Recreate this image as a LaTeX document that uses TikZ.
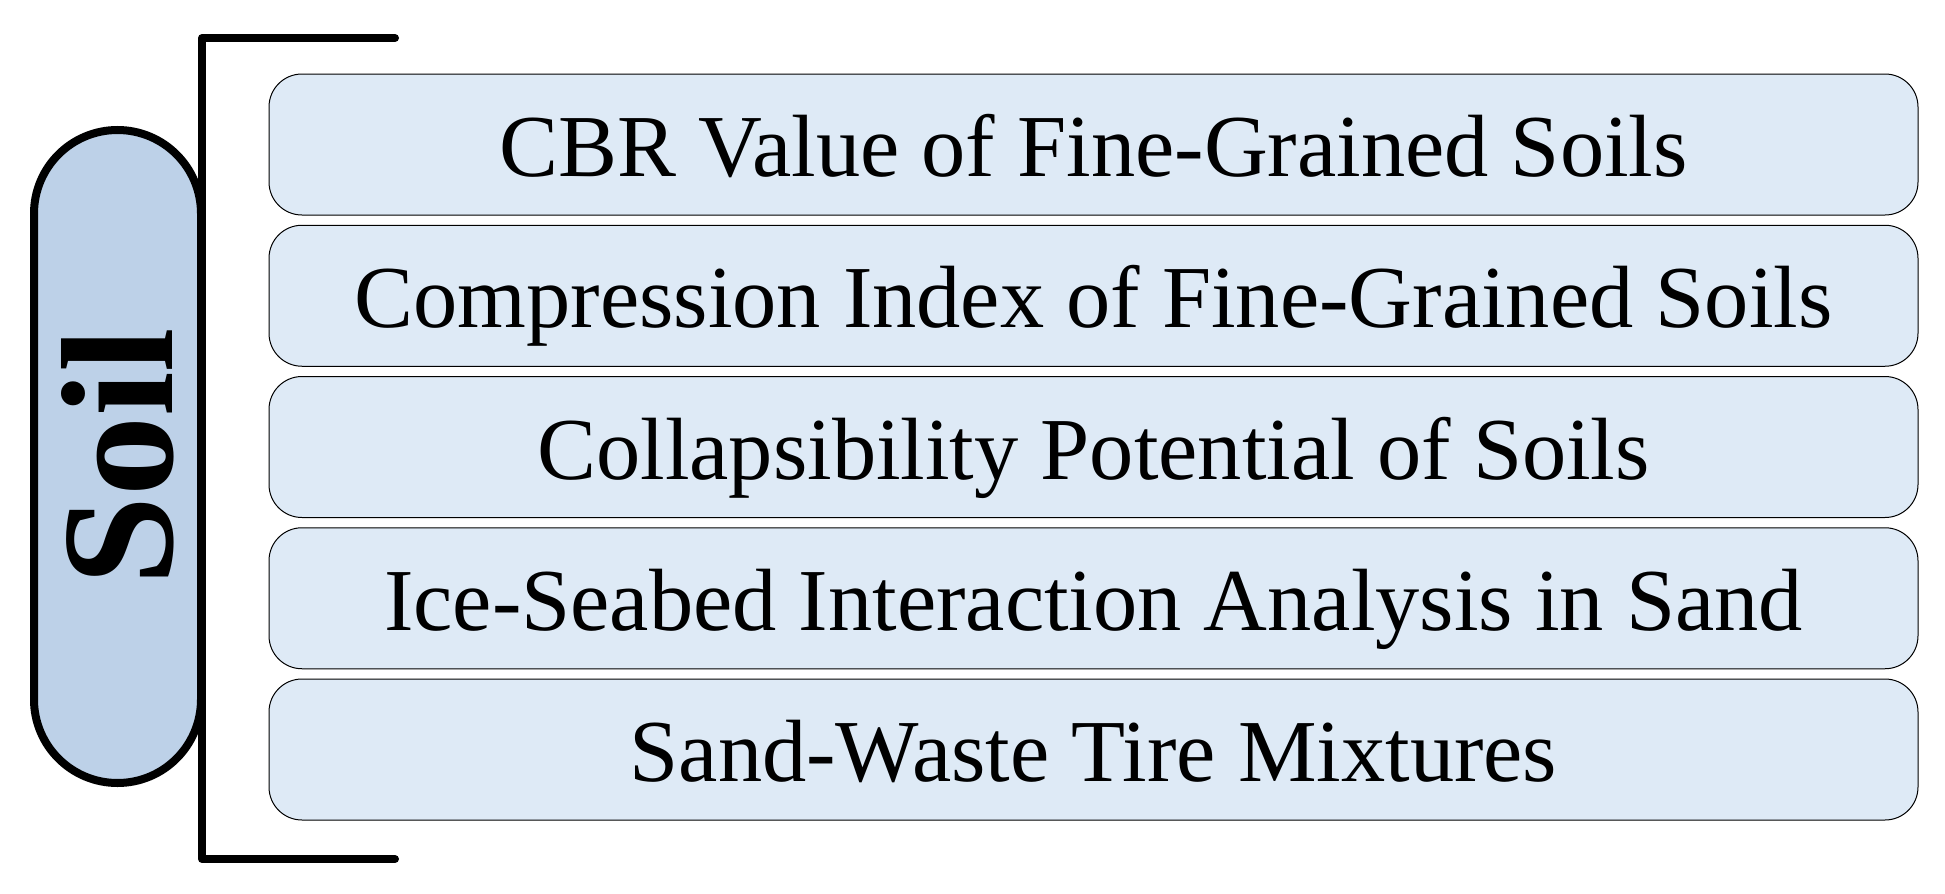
\documentclass[tikz,border=0pt]{standalone}
\usepackage{fontspec}
\setmainfont{Liberation Serif}
\definecolor{boxfill}{RGB}{222,234,246}
\definecolor{pillfill}{RGB}{189,209,232}
\tikzset{
  itembox/.style={draw=black, line width=0.5pt, fill=boxfill, rounded corners=16.5pt,
    minimum width=824.5pt, minimum height=70.5pt, inner sep=0pt,
    text height=32pt, text depth=0pt,
    font=\fontsize{44.2}{50}\selectfont},
  pill/.style={draw=black, line width=4pt, fill=pillfill, rotate=90,
    rounded corners=41.75pt, minimum width=326.5pt, minimum height=83.5pt, inner sep=0pt,
    font=\bfseries\fontsize{80}{90}\selectfont},
  bracket/.style={draw=black, line width=4pt, line cap=round, line join=round}
}
\begin{document}
\begin{tikzpicture}[x=0.5pt,y=-0.5pt]
\useasboundingbox (0,0) rectangle (1945,894);
\node[pill] (soil) at (117.5,456.5) {Soil};
\coordinate (bt) at (395,38);
\coordinate (bct) at (202,38);
\coordinate (bcb) at (202,859);
\coordinate (bb) at (395,859);
\draw[bracket] (bt) -- (bct) -- (bcb) -- (bb);
\node[itembox] (b1) at (1093.5,144.5) {CBR Value of Fine-Grained Soils};
\node[itembox] (b2) at (1093.5,295.75) {Compression Index of Fine-Grained Soils};
\node[itembox] (b3) at (1093.5,447) {Collapsibility Potential of Soils};
\node[itembox] (b4) at (1093.5,598.25) {Ice-Seabed Interaction Analysis in Sand};
\node[itembox] (b5) at (1093.5,749.5) {Sand-Waste Tire Mixtures};
\end{tikzpicture}
\end{document}
